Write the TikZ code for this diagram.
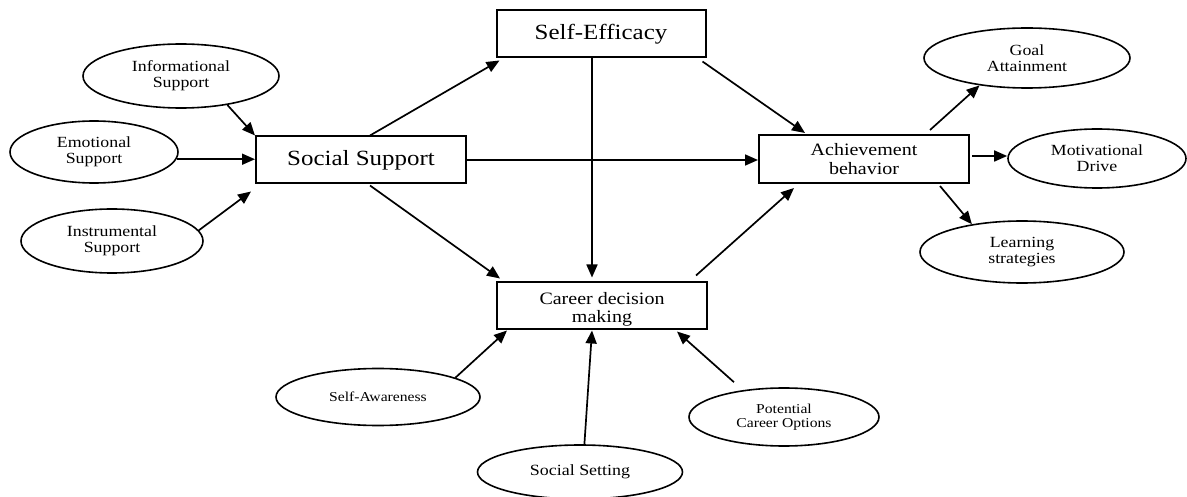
\documentclass[tikz,border=0pt]{standalone}
\usepackage{fontspec}
\setmainfont[FakeStretch=1.15]{Liberation Serif}
\usetikzlibrary{arrows.meta,shapes.geometric,calc}
\begin{document}
\begin{tikzpicture}[x=1pt,y=-1pt,
  boxnode/.style={draw,line width=2pt,rectangle,inner sep=0pt,minimum width=210pt,minimum height=47pt,align=center},
  ellnode/.style={draw,line width=1.6pt,ellipse,inner sep=0pt,align=center},
  bigtxt/.style={font=\fontsize{21.7}{24}\selectfont},
  midtxt/.style={font=\fontsize{17.4}{18.3}\selectfont},
  elltxt/.style={font=\fontsize{15.5}{16}\selectfont},
  smalltxt/.style={font=\fontsize{13.6}{13.5}\selectfont},
  conn/.style={line width=1.7pt,-{Triangle[length=13pt,width=11pt]}}]
\useasboundingbox[fill=white] (0,0) rectangle (1187,497);

% boxes
\node[boxnode,bigtxt,minimum width=209pt] (se) at (601,34) {Self-Efficacy};
\node[boxnode,bigtxt] (ss) at (361,160) {Social Support};
\node[boxnode,midtxt,minimum height=48pt] (ab) at (864,159) {Achievement\\behavior};
\node[boxnode,midtxt] (cd) at (602,306) {};
\node[midtxt,align=center] (cdt) at (602,309) {Career decision\\making};

% ellipses
\node[ellnode,elltxt,minimum width=196pt,minimum height=64pt] (info) at (181,76) {Informational\\Support};
\node[ellnode,elltxt,minimum width=168pt,minimum height=62pt] (emo) at (94,152) {Emotional\\Support};
\node[ellnode,elltxt,minimum width=182pt,minimum height=64pt] (ins) at (112,241) {Instrumental\\Support};
\node[ellnode,elltxt,minimum width=206pt,minimum height=60pt] (goal) at (1027,58) {Goal\\Attainment};
\node[ellnode,elltxt,minimum width=178pt,minimum height=59pt] (mot) at (1097,158.5) {Motivational\\Drive};
\node[ellnode,elltxt,minimum width=204pt,minimum height=62pt] (learn) at (1022,252) {Learning\\strategies};
\node[ellnode,smalltxt,minimum width=204pt,minimum height=57pt] (sa) at (378,397) {Self-Awareness};
\node[ellnode,smalltxt,minimum width=190pt,minimum height=58pt] (pco) at (784,417) {Potential\\Career Options};
\node[ellnode,font=\fontsize{15.6}{16}\selectfont,minimum width=205pt,minimum height=54pt] (sset) at (580,472) {Social Setting};

\coordinate (abm) at ($(ab.east)+(2,-3)$);

% connectors into Social Support
\draw[conn] (info.-32.5) -- (ss.north west);
\draw[conn] (emo.-5) -- (emo.-5 -| ss.west);
\draw[conn] (ins.7) -- ($(ss.south west)+(-4,7)$);

% from Social Support
\draw[conn] ($(ss.north)+(9,0)$) -- ($(se.south west)+(4,2)$);
\draw[conn] ($(ss.south)+(9,1)$) -- ($(cd.north west)+(4,-3)$);
\draw[conn] (ss.east) -- (ss.east -| ab.west);

% from Self-Efficacy
\draw[conn] ($(se.south)+(-9,0)$) -- ($(cd.north)+(-10,-4)$);
\draw[conn] ($(se.south east)+(-4,3)$) -- ($(ab.north west)+(47,-1)$);

% career decision to achievement
\draw[conn] ($(cd.north east)+(-12,-6)$) -- ($(ab.south west)+(36,4)$);

% achievement outputs
\draw[conn] ($(ab.north east)+(-40,-4)$) -- (goal.210);
\draw[conn] (abm) -- (abm -| mot.west);
\draw[conn] ($(ab.south east)+(-30,2)$) -- (learn.151);

% into career decision making
\draw[conn] (sa.14.6) -- ($(cd.south west)+(11,0)$);
\draw[conn] (sset.81) -- ($(cd.south)+(-10,0)$);
\draw[conn] ($(pco.north)+(-50,-5)$) -- ($(cd.south east)+(-31,1)$);
\end{tikzpicture}
\end{document}
